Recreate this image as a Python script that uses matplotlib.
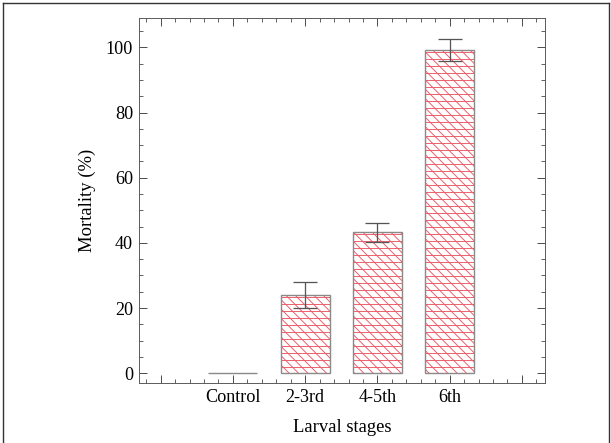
import matplotlib
matplotlib.use("Agg")
import matplotlib.pyplot as plt
from matplotlib.ticker import MultipleLocator
from matplotlib.lines import Line2D

categories = ["Control", "2-3rd", "4-5th", "6th"]
mortality = [0.0, 24.0, 43.2, 99.2]
errors = [0.0, 4.1, 3.0, 3.3]

DPI = 84
plt.rcParams['font.family'] = ['Liberation Serif', 'DejaVu Serif']
plt.rcParams['hatch.linewidth'] = 0.8

fig = plt.figure(figsize=(611 / DPI, 443 / DPI), dpi=DPI)
ax = fig.add_axes([139 / 611, 1 - 383 / 443, (545 - 139) / 611, (383 - 18) / 443])

x = list(range(1, len(categories) + 1))
hatch_col = '#ec5a66'
edge_col = '#8a8a8a'
ax.bar(x, mortality, width=0.68, color='white', edgecolor=hatch_col,
       hatch='\\\\\\', linewidth=0, zorder=2)
ax.bar(x, mortality, width=0.68, fill=False, edgecolor=hatch_col,
       hatch='--', linewidth=0, zorder=2)
ax.bar(x, mortality, width=0.68, fill=False, edgecolor=edge_col,
       linewidth=1.2, zorder=3)
ax.errorbar(x[1:], mortality[1:], yerr=errors[1:], fmt='none', ecolor='#555555',
            elinewidth=1.1, capsize=10.5, capthick=1.1, zorder=4)

ax.set_xlim(-0.3, 5.32)
ax.set_ylim(-3, 109)
ax.set_xticks(range(0, 6))
ax.set_xticklabels([''] + categories + [''])
ax.xaxis.set_minor_locator(MultipleLocator(0.2))
ax.yaxis.set_major_locator(MultipleLocator(20))
ax.yaxis.set_minor_locator(MultipleLocator(5))

ax.tick_params(which='both', direction='in', top=True, right=True,
               colors='#444444', labelcolor='black', labelsize=15.5)
ax.tick_params(which='major', length=6.5, width=0.8, pad=5)
ax.tick_params(which='minor', length=3.2, width=0.7)
for s in ax.spines.values():
    s.set_color('#555555')
    s.set_linewidth(0.8)

ax.set_ylabel('Mortality (%)', fontsize=16, labelpad=8)
ax.set_xlabel('Larval stages', fontsize=16, labelpad=11)

# figure frame (left, top, right)
fx0, fx1 = 2.5 / 611, 608.5 / 611
fy1 = 1 - 2.5 / 443
for xs, ys in [([fx0, fx0], [0, fy1]), ([fx0, fx1], [fy1, fy1]), ([fx1, fx1], [0, fy1])]:
    fig.add_artist(Line2D(xs, ys, transform=fig.transFigure, color='#333333', linewidth=1.2))

fig.savefig('out.png', dpi=DPI)
